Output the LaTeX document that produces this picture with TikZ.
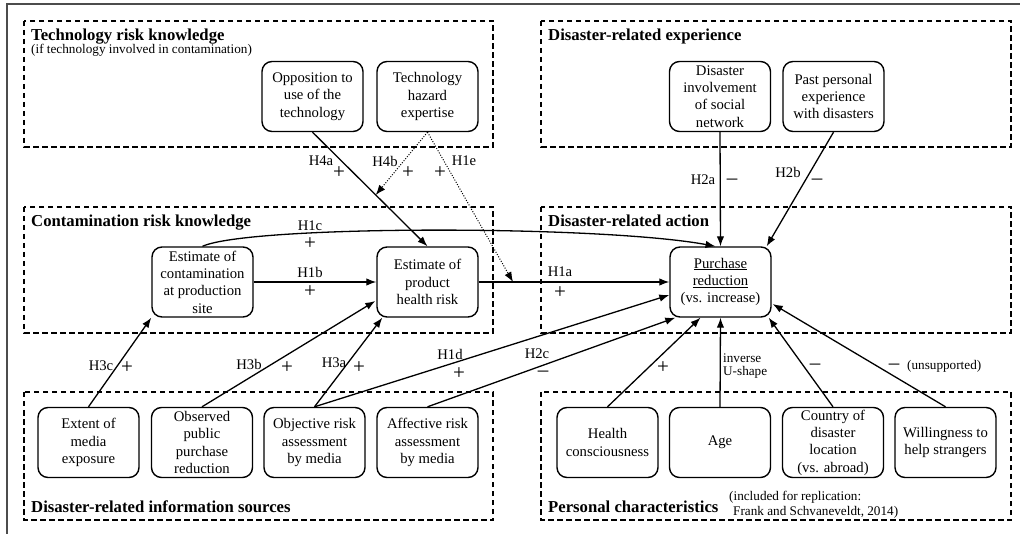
\documentclass[tikz,border=0pt]{standalone}
\usepackage{fontspec}
\setmainfont{Liberation Serif}
\usetikzlibrary{arrows.meta,calc}
\begin{document}
\begin{tikzpicture}[x=1pt,y=-1pt,
  box/.style={draw, line width=1.4pt, rounded corners=10pt, minimum width=101pt, minimum height=70pt, align=center, inner sep=0pt, font=\fontsize{14.7}{17.4}\selectfont},
  grp/.style={draw, line width=1.2pt, dash pattern=on 5.5pt off 3.5pt},
  ttl/.style={anchor=base west, font=\fontsize{16.7}{19}\selectfont\bfseries, inner sep=0pt},
  sml/.style={anchor=base west, font=\fontsize{13.2}{14}\selectfont, inner sep=0pt},
  lbl/.style={font=\fontsize{14.7}{17}\selectfont, inner sep=0pt},
  sgn/.style={font=\fontsize{21}{21}\selectfont, inner sep=0pt},
  arr/.style={-{Latex[length=10pt,width=7.5pt]}, line width=1.3pt},
  dotarr/.style={-{Latex[length=10pt,width=7.5pt]}, line width=1pt, dash pattern=on 1pt off 1.6pt}
]
\useasboundingbox (0,0) rectangle (1020,534);
% frame
\draw[line width=2pt, black!70] (7,534) -- (7,4) -- (1020,4);

% group boxes
\draw[grp] (24,21) rectangle (493,147);
\draw[grp] (541,21) rectangle (1011,147);
\draw[grp] (24,207) rectangle (493,333);
\draw[grp] (541,207) rectangle (1011,333);
\draw[grp] (24,392) rectangle (493,520);
\draw[grp] (541,392) rectangle (1011,520);

% titles
\node[ttl] (t1) at (31,41) {Technology risk knowledge};
\node[sml] (t1s) at (31,54) {(if technology involved in contamination)};
\node[ttl] (t2) at (548,41) {Disaster-related experience};
\node[ttl] (t3) at (31,227) {Contamination risk knowledge};
\node[ttl] (t4) at (548,227) {Disaster-related action};
\node[ttl] (t5) at (31,512) {Disaster-related information sources};
\node[ttl] (t6) at (548,512) {Personal characteristics};
\node[sml] (t6a) at (729,500) {(included for replication:};
\node[sml] (t6b) at (733,515) {Frank and Schvaneveldt, 2014)};

% nodes
\node[box] (opp) at (312.5,96.5) {Opposition to\\use of the\\technology};
\node[box] (tech) at (427.5,96.5) {Technology\\hazard\\expertise};
\node[box] (inv) at (720,96.5) {Disaster\\involvement\\of social\\network};
\node[box] (past) at (833.5,96.5) {Past personal\\experience\\with disasters};
\node[box] (cont) at (202.5,282) {Estimate of\\contamination\\at production\\site};
\node[box] (prod) at (427.5,282) {Estimate of\\product\\health risk};
\node[box] (purch) at (720.5,282) {\underline{Purchase}\\\underline{reduction}\\(vs. increase)};
\node[box] (ext) at (88.5,442.5) {Extent of\\media\\exposure};
\node[box] (obs) at (202,442.5) {Observed\\public\\purchase\\reduction};
\node[box] (obj) at (314.5,442.5) {Objective risk\\assessment\\by media};
\node[box] (aff) at (427.5,442.5) {Affective risk\\assessment\\by media};
\node[box] (hea) at (607.5,442.5) {Health\\consciousness};
\node[box] (age) at (720,442.5) {Age};
\node[box] (cty) at (833,442.5) {Country of\\disaster\\location\\(vs. abroad)};
\node[box] (wil) at (945.5,442.5) {Willingness to\\help strangers};

% helper coordinates on lines
\coordinate (h4bend) at ($(opp.south)!0.55!(prod.north)$);
\coordinate (h1eend) at ($(prod.east)!0.18!(purch.west)$);

% connectors
\draw[arr] (opp.south) -- (prod.north);
\draw[dotarr] (tech.south) -- (h4bend);
\draw[dotarr] (tech.south) -- (h1eend);
\draw[arr] (cont.north) .. controls (250,225) and (600,225) .. ($(purch.north)+(-5,0)$);
\draw[arr] (cont.east) -- (prod.west);
\draw[arr] (prod.east) -- (purch.west);
\draw[arr] (inv.south) -- (purch.north);
\draw[arr] (past.south) -- ($(purch.north east)+(-5,0)$);
\draw[arr] (ext.north) -- (cont.south west);
\draw[arr] (obs.north) -- ($(prod.west)+(-1,19)$);
\draw[arr] (obj.north) -- ($(prod.south west)+(6,0)$);
\draw[arr] (obj.north) -- ($(purch.west)+(0,13)$);
\draw[arr] (aff.north) -- ($(purch.south west)+(6,0)$);
\draw[arr] (hea.north) -- ($(purch.south)+(-20,0)$);
\draw[arr] (age.north) -- (purch.south);
\draw[arr] (cty.north) -- ($(purch.south east)+(-3,0)$);
\draw[arr] (wil.north) -- ($(purch.east)+(1,22)$);

% hypothesis labels
\node[lbl] (lH4a) at (321,161) {H4a};
\node[sgn] (sH4a) at (339,173) {+};
\node[lbl] (lH4b) at (385,161) {H4b};
\node[sgn] (sH4b) at (408,173) {+};
\node[lbl] (lH1e) at (464,161) {H1e};
\node[sgn] (sH1e) at (440,173) {+};
\node[lbl] (lH1c) at (310,226) {H1c};
\node[sgn] (sH1c) at (310,244) {+};
\node[lbl] (lH1b) at (310,272) {H1b};
\node[sgn] (sH1b) at (310,292) {+};
\node[lbl] (lH1a) at (560,272) {H1a};
\node[sgn] (sH1a) at (560,293) {+};
\node[lbl] (lH2a) at (703,180) {H2a};
\node[sgn] (sH2a) at (732,182) {–};
\node[lbl] (lH2b) at (788,172) {H2b};
\node[sgn] (sH2b) at (817,182) {–};
\node[lbl] (lH3c) at (101,366) {H3c};
\node[sgn] (sH3c) at (127,368) {+};
\node[lbl] (lH3b) at (249,364) {H3b};
\node[sgn] (sH3b) at (287,368) {+};
\node[lbl] (lH3a) at (334,363) {H3a};
\node[sgn] (sH3a) at (359,368) {+};
\node[lbl] (lH1d) at (450,354) {H1d};
\node[sgn] (sH1d) at (459,374) {+};
\node[lbl] (lH2c) at (537,354) {H2c};
\node[sgn] (sH2c) at (543,374) {–};
\node[sgn] (sHea) at (663,368) {+};
\node[sml] (inv1) at (723,363) {inverse};
\node[sml] (inv2) at (723,376) {U-shape};
\node[sgn] (sCty) at (815,367) {–};
\node[sgn] (sWil) at (894,367) {–};
\node[sml, anchor=west] (uns) at (907,366) {(unsupported)};
\end{tikzpicture}
\end{document}
